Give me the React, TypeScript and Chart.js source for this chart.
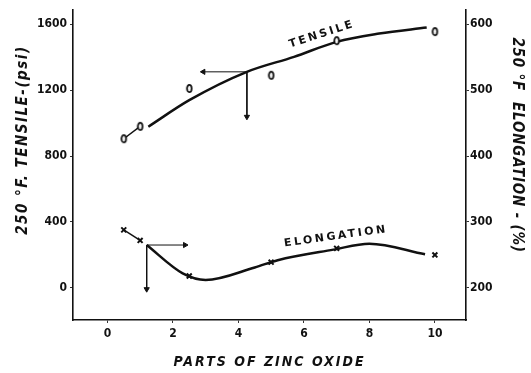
import { useEffect, useRef } from 'react';
import { Chart, registerables } from 'chart.js';
Chart.register(...registerables);

// Axis ticks
const xTicks = [0, 2, 4, 6, 8, 10];
const tensileTicks = [0, 400, 800, 1200, 1600];
const elongationTicks = [200, 300, 400, 500, 600];

// Measured points
const zincParts = [0.5, 1, 2.5, 5, 7, 10];
const tensileValues = [905, 980, 1210, 1290, 1500, 1555];
const elongationValues = [288, 272, 218, 239, 260, 250];

// Faired curves
const tensileCurveX = [1.25, 2.5, 4.26, 5.7, 7.0, 8.3, 9.75];
const tensileCurveY = [978, 1139, 1311, 1402, 1493, 1543, 1580];
const elongationCurveX = [1.2, 2.3, 3.0, 4.5, 5.2, 6.9, 8.0, 9.7];
const elongationCurveY = [265, 222, 212, 231, 242, 258, 267, 251];

// Reading arrows
const tensileArrowH = { x: [4.26, 2.93], y: [1311, 1311] };
const tensileArrowV = { x: [4.26, 4.26], y: [1311, 1038] };
const elongArrowH = { x: [1.2, 2.37], y: [265, 265] };
const elongArrowV = { x: [1.2, 1.2], y: [265, 198] };

// Curve labels (data coordinates)
const curveLabels = ['TENSILE', 'ELONGATION'];
const curveLabelX = [6.55, 6.98];
const curveLabelY = [1539, 278];
const curveLabelAxis = ['y', 'y2'];
const curveLabelAngle = [-18, -8];

const xTitle = 'PARTS OF ZINC OXIDE';
const leftTitle = '250 °F. TENSILE-(psi)';
const rightTitle = '250 °F  ELONGATION - (%)';

const INK = '#111';
const FONT = '"DejaVu Sans Condensed", "DejaVu Sans", sans-serif';

const pts = (xs: number[], ys: number[]) => xs.map((x, i) => ({ x, y: ys[i] }));

export default function App() {
  const ref = useRef<HTMLCanvasElement>(null);
  useEffect(() => {
    document.body.style.margin = '0';
    const oMark = document.createElement('canvas');
    oMark.width = 9;
    oMark.height = 11;
    const c = oMark.getContext('2d')!;
    c.strokeStyle = INK;
    c.lineWidth = 1.8;
    c.fillStyle = '#fff';
    c.beginPath();
    c.ellipse(4.5, 5.5, 2.3, 3.6, 0, 0, Math.PI * 2);
    c.fill();
    c.stroke();

    const annotate = {
      id: 'annotate',
      afterDatasetsDraw(chart: any) {
        const ctx = chart.ctx as CanvasRenderingContext2D;
        const xs = chart.scales.x;
        const area = chart.chartArea;
        ctx.save();
        ctx.fillStyle = INK;
        ctx.textAlign = 'center';
        ctx.textBaseline = 'middle';
        ctx.font = `bold 11px "DejaVu Sans", sans-serif`;
        (ctx as any).letterSpacing = '2.5px';
        curveLabels.forEach((t, i) => {
          const px = xs.getPixelForValue(curveLabelX[i]);
          const py = chart.scales[curveLabelAxis[i]].getPixelForValue(curveLabelY[i]);
          ctx.save();
          ctx.translate(px, py);
          ctx.rotate((curveLabelAngle[i] * Math.PI) / 180);
          ctx.fillText(t, 0, 0);
          ctx.restore();
        });
        ctx.font = `italic bold 15px ${FONT}`;
        (ctx as any).letterSpacing = '1.5px';
        const midY = (area.top + area.bottom) / 2;
        ctx.save();
        ctx.translate(area.left - 50, midY - 25);
        ctx.rotate(-Math.PI / 2);
        ctx.fillText(leftTitle, 0, 0);
        ctx.restore();
        (ctx as any).letterSpacing = '0.8px';
        ctx.save();
        ctx.translate(area.right + 51, midY - 20);
        ctx.rotate(Math.PI / 2);
        ctx.fillText(rightTitle, 0, 0);
        ctx.restore();
        ctx.font = `italic bold 14px ${FONT}`;
        (ctx as any).letterSpacing = '2px';
        ctx.fillText(xTitle, (area.left + area.right) / 2, area.bottom + 42);
        ctx.restore();
      },
    };

    const tickFont = { family: FONT, size: 12, weight: 'bold' as const };
    const arrow = (d: { x: number[]; y: number[] }, axis: string, rot: number) => ({
      data: pts(d.x, d.y),
      yAxisID: axis,
      showLine: true,
      borderColor: INK,
      borderWidth: 1,
      pointStyle: 'triangle',
      pointRadius: [0, 3],
      pointRotation: [0, rot],
      pointBackgroundColor: INK,
      pointBorderColor: INK,
      pointBorderWidth: 1,
    });

    const chart = new Chart(ref.current!, {
      type: 'scatter',
      data: {
        datasets: [
          {
            data: pts(zincParts, tensileValues),
            yAxisID: 'y',
            pointStyle: oMark as any,
            pointRadius: 4,
          },
          {
            data: pts(zincParts, elongationValues),
            yAxisID: 'y2',
            pointStyle: 'crossRot',
            pointRadius: 3.5,
            pointBorderWidth: 2,
            pointBorderColor: INK,
          },
          {
            data: pts(zincParts.slice(0, 2), tensileValues.slice(0, 2)),
            yAxisID: 'y',
            showLine: true,
            borderColor: INK,
            borderWidth: 1.5,
            pointRadius: 0,
          },
          {
            data: pts(zincParts.slice(0, 2), elongationValues.slice(0, 2)),
            yAxisID: 'y2',
            showLine: true,
            borderColor: INK,
            borderWidth: 1.5,
            pointRadius: 0,
          },
          {
            data: pts(tensileCurveX, tensileCurveY),
            yAxisID: 'y',
            showLine: true,
            borderColor: INK,
            borderWidth: 2.5,
            pointRadius: 0,
            cubicInterpolationMode: 'monotone',
          },
          {
            data: pts(elongationCurveX, elongationCurveY),
            yAxisID: 'y2',
            showLine: true,
            borderColor: INK,
            borderWidth: 2.5,
            pointRadius: 0,
            cubicInterpolationMode: 'monotone',
          },
          arrow(tensileArrowH, 'y', 270),
          arrow(tensileArrowV, 'y', 180),
          arrow(elongArrowH, 'y2', 90),
          arrow(elongArrowV, 'y2', 180),
        ] as any,
      },
      options: {
        animation: false,
        responsive: true,
        maintainAspectRatio: false,
        layout: { padding: { top: 10, left: 0, right: 0, bottom: 0 } },
        plugins: { legend: { display: false }, tooltip: { enabled: false } },
        scales: {
          x: {
            type: 'linear',
            min: -1.05,
            max: 10.95,
            afterBuildTicks: (a: any) => {
              a.ticks = xTicks.map((v) => ({ value: v }));
            },
            afterFit: (s: any) => {
              s.height = 53;
            },
            ticks: { font: tickFont, color: INK, padding: 4, callback: (v: any) => String(v) },
            grid: { drawOnChartArea: false, tickLength: 3, color: '#333' },
            border: { color: INK, width: 1.6 },
          },
          y: {
            type: 'linear',
            position: 'left',
            min: -195,
            max: 1685,
            afterBuildTicks: (a: any) => {
              a.ticks = tensileTicks.map((v) => ({ value: v }));
            },
            afterFit: (s: any) => {
              s.width = 73;
            },
            ticks: { font: tickFont, color: INK, padding: 3, callback: (v: any) => String(v) },
            grid: { drawOnChartArea: false, tickLength: 3, color: '#333' },
            border: { color: INK, width: 1.6 },
          },
          y2: {
            type: 'linear',
            position: 'right',
            min: 151.25,
            max: 621.25,
            afterBuildTicks: (a: any) => {
              a.ticks = elongationTicks.map((v) => ({ value: v }));
            },
            afterFit: (s: any) => {
              s.width = 65;
            },
            ticks: { font: tickFont, color: INK, padding: 1, callback: (v: any) => String(v) },
            grid: { drawOnChartArea: false, tickLength: 3, color: '#333' },
            border: { color: INK, width: 1.6 },
          },
        },
      } as any,
      plugins: [annotate],
    });
    return () => chart.destroy();
  }, []);
  return (
    <div style={{ width: 531, height: 373, position: 'relative' }}>
      <canvas ref={ref} />
    </div>
  );
}
